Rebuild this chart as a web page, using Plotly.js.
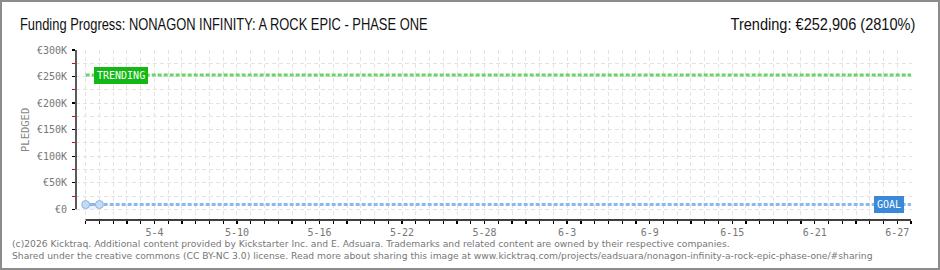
<!DOCTYPE html>
<html><head><meta charset="utf-8">
<script src="https://cdn.plot.ly/plotly-3.0.1.min.js"></script>
<style>
html,body{margin:0;padding:0;background:#fff;}
#wrap{position:relative;width:940px;height:270px;}
#chart{position:absolute;left:0;top:0;width:940px;height:270px;}
#border{position:absolute;left:0;top:0;width:940px;height:270px;box-sizing:border-box;border:2px solid #8c8c8c;pointer-events:none;}
</style></head>
<body>
<div id="wrap"><div id="chart"></div><div id="border"></div></div>
<script>
// ---- data ----
const pledgedDates = ['2016-04-29', '2016-04-30'];
const pledgedValues = [8900, 9050];
const goalValue = 9000;
const trendingValue = 252906;
const trendingPct = 2810;
const startDate = '2016-04-29';
const endDate = '2016-06-28';
const yTickVals = [0, 50000, 100000, 150000, 200000, 250000, 300000];
const yTickText = ['€0', '€50K', '€100K', '€150K', '€200K', '€250K', '€300K'];
const yMinorVals = [25000, 75000, 125000, 175000, 225000, 275000];
const xLabelStart = '2016-05-04';
const titleText = 'Funding Progress: NONAGON INFINITY: A ROCK EPIC - PHASE ONE';
const trendText = 'Trending: €' + trendingValue.toLocaleString('en-US') + ' (' + trendingPct + '%)';
const footer1 = '(c)2026 Kicktraq. Additional content provided by Kickstarter Inc. and E. Adsuara. Trademarks and related content are owned by their respective companies.';
const footer2 = 'Shared under the creative commons (CC BY-NC 3.0) license. Read more about sharing this image at www.kicktraq.com/projects/eadsuara/nonagon-infinity-a-rock-epic-phase-one/#sharing';

// ---- layout geometry ----
const W = 940, H = 270;
const L = 76, R = 28, T = 50, B = 50;
const pw = W - L - R, ph = H - T - B;
const px2paperX = p => (p - L) / pw;
const py2paperY = p => (H - B - p) / ph;
const DAY = 86400000;
const x0 = new Date(startDate + 'T00:00:00Z').getTime() - 0.703 * DAY;
const x1 = new Date(endDate + 'T00:00:00Z').getTime() + 0.07 * DAY;
const iso = t => new Date(t).toISOString().replace('T', ' ').replace('Z', '').slice(0, 19);

const lblFont = {family: 'DejaVu Sans Mono, monospace', size: 10, color: '#777'};
const headFont = {family: 'Liberation Sans, Arial, sans-serif', size: 16.5, color: '#111'};

const traces = [
  {
    x: [startDate, endDate], y: [goalValue, goalValue], mode: 'lines',
    line: {color: '#8cb9ec', width: 3, dash: '4px,2px'}, hoverinfo: 'skip'
  },
  {
    x: [startDate, endDate], y: [trendingValue, trendingValue], mode: 'lines',
    line: {color: '#6bd36b', width: 3, dash: '4px,2px'}, hoverinfo: 'skip'
  },
  {
    x: pledgedDates, y: pledgedValues, mode: 'lines+markers',
    fill: 'tozeroy', fillcolor: 'rgba(200,220,245,0.35)',
    line: {color: '#8cb9ec', width: 3},
    marker: {size: 8, color: '#c4dbf5', line: {color: '#8fb2de', width: 1}},
    hoverinfo: 'skip'
  }
];

const layout = {
  width: W, height: H,
  margin: {l: L, r: R, t: T, b: B},
  paper_bgcolor: '#fff', plot_bgcolor: '#fff',
  showlegend: false,
  title: {
    text: titleText, x: 20 / W, xanchor: 'left', xref: 'container',
    y: 1 - 24 / H, yanchor: 'middle', yref: 'container',
    font: headFont
  },
  xaxis: {
    type: 'date', range: [iso(x0), iso(x1)],
    tick0: xLabelStart, dtick: 6 * DAY, tickformat: '%-m-%-d',
    ticks: 'outside', ticklen: 3, tickcolor: '#000', tickwidth: 1.3,
    tickfont: lblFont,
    showline: false, zeroline: false,
    showgrid: true, gridcolor: '#e3e3e3', griddash: '4px,3px', gridwidth: 1,
    minor: {dtick: DAY, tick0: startDate, ticks: 'outside', ticklen: 3, tickcolor: '#000', tickwidth: 1.3,
            showgrid: true, gridcolor: '#e3e3e3', griddash: '4px,3px', gridwidth: 1},
    fixedrange: true
  },
  yaxis: {
    range: [-20150, 300000],
    tickvals: yTickVals, ticktext: yTickText,
    ticks: 'outside', ticklen: 3, tickcolor: '#000', tickwidth: 1.3,
    tickfont: lblFont, ticklabelstandoff: 3,
    showline: false, zeroline: false,
    showgrid: true, gridcolor: '#e3e3e3', griddash: '4px,3px', gridwidth: 1,
    minor: {tickvals: yMinorVals, ticks: 'outside', ticklen: 3, tickcolor: '#e00', tickwidth: 1,
            showgrid: true, gridcolor: '#e3e3e3', griddash: '4px,3px', gridwidth: 1},
    fixedrange: true
  },
  shapes: [
    {type: 'rect', layer: 'between', xref: 'paper', yref: 'paper', x0: 0, x1: px2paperX(85), y0: 0, y1: 1,
     fillcolor: '#fff', line: {width: 0}},
    {type: 'line', xref: 'paper', yref: 'y', x0: 0, x1: 0, y0: 0, y1: 300000, line: {color: '#000', width: 1.3}},
    {type: 'line', xref: 'x', yref: 'paper', x0: startDate, x1: endDate, y0: 0, y1: 0, line: {color: '#000', width: 1.3}}
  ],
  annotations: [
    {xref: 'paper', yref: 'paper', x: px2paperX(917), y: py2paperY(24), xanchor: 'right', yanchor: 'middle',
     text: trendText, showarrow: false, font: headFont},
    {xref: 'paper', yref: 'paper', x: px2paperX(25), y: py2paperY(130), xanchor: 'center', yanchor: 'middle',
     text: 'PLEDGED', textangle: -90, showarrow: false,
     font: {family: 'DejaVu Sans Mono, monospace', size: 10.5, color: '#888'}},
    {xref: 'paper', yref: 'y', x: px2paperX(94), y: trendingValue, xanchor: 'left', yanchor: 'middle',
     text: 'TRENDING', showarrow: false, bgcolor: '#14b814', borderpad: 2, bordercolor: '#14b814',
     font: {family: 'DejaVu Sans Mono, monospace', size: 10, color: '#fff'}},
    {xref: 'paper', yref: 'y', x: px2paperX(904), y: goalValue, xanchor: 'right', yanchor: 'middle',
     text: 'GOAL', showarrow: false, bgcolor: '#3a89d9', borderpad: 2, bordercolor: '#3a89d9',
     font: {family: 'DejaVu Sans Mono, monospace', size: 10, color: '#fff'}},
    {xref: 'paper', yref: 'paper', x: px2paperX(10), y: py2paperY(243.5), xanchor: 'left', yanchor: 'middle',
     text: footer1, showarrow: false, font: {family: 'DejaVu Sans, Verdana, sans-serif', size: 9.2, color: '#777'}},
    {xref: 'paper', yref: 'paper', x: px2paperX(10), y: py2paperY(255.5), xanchor: 'left', yanchor: 'middle',
     text: footer2, showarrow: false, font: {family: 'DejaVu Sans, Verdana, sans-serif', size: 9.2, color: '#777'}}
  ]
};

// condense a text element to a target width, keeping its left or right edge
function condense(el, targetW, keep) {
  const bb = el.getBBox();
  if (!bb.width) return;
  const s = targetW / bb.width;
  const ax = keep === 'right' ? bb.x + bb.width : bb.x;
  const old = el.getAttribute('transform') || '';
  el.setAttribute('transform', old + ' translate(' + ax + ',0) scale(' + s + ',1) translate(' + (-ax) + ',0)');
}

Plotly.newPlot('chart', traces, layout, {staticPlot: true, displayModeBar: false}).then(gd => {
  const t = gd.querySelector('.gtitle');
  if (t) condense(t, 408, 'left');
  gd.querySelectorAll('.annotation-text').forEach(el => {
    if (el.textContent === trendText) condense(el, 185, 'right');
  });
});
</script>
</body></html>
